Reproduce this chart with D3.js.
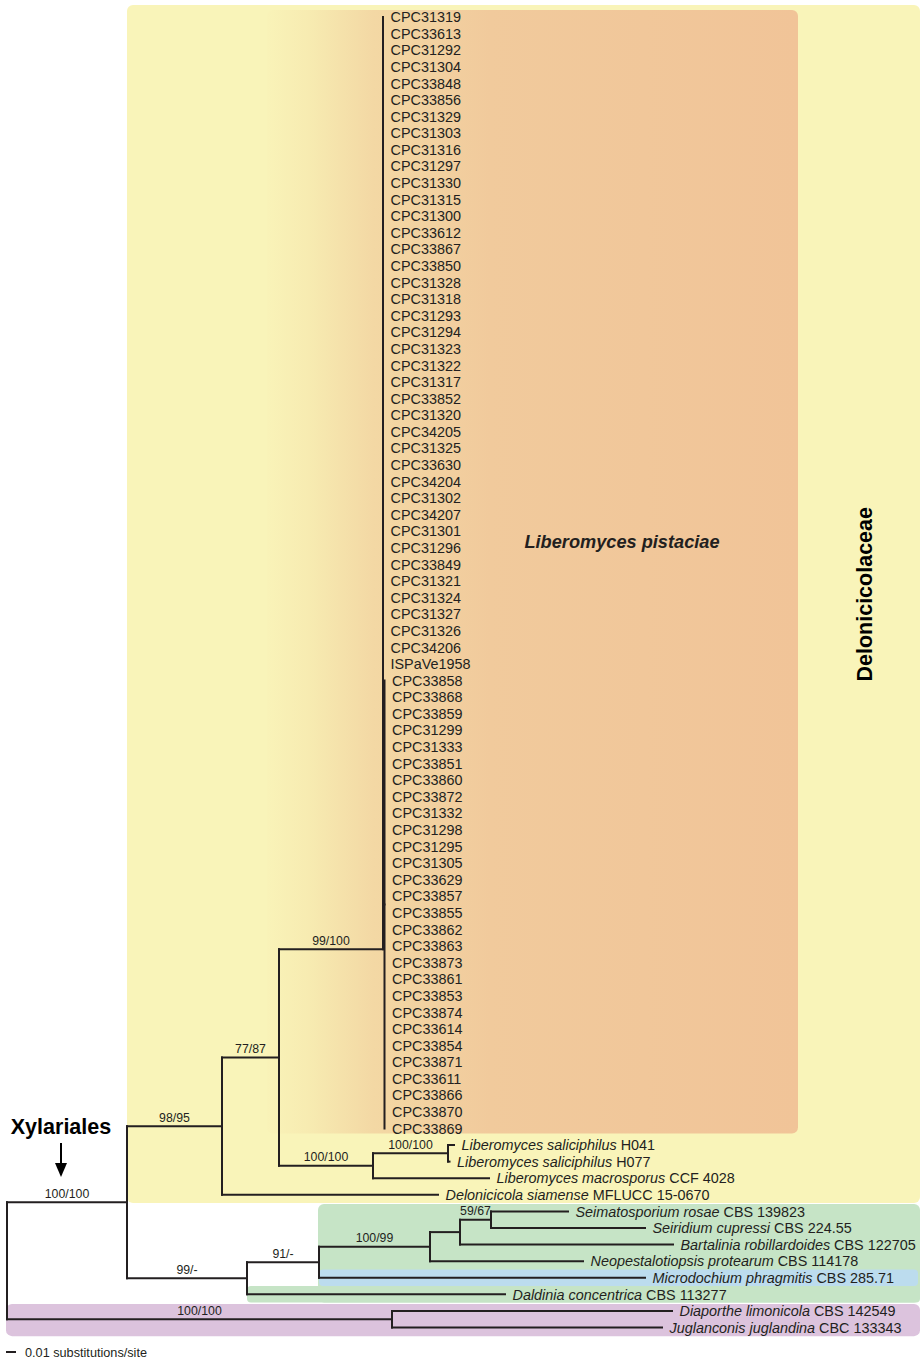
<!DOCTYPE html>
<html><head><meta charset="utf-8">
<script src="https://cdn.jsdelivr.net/npm/d3@7"></script>
<style>body{margin:0;background:#fff}svg{display:block}</style>
</head><body><svg id="chart" width="921" height="1359"></svg>
<script>
// ---------- data ----------
const pistaciaeA = ["CPC31319","CPC33613","CPC31292","CPC31304","CPC33848","CPC33856","CPC31329","CPC31303","CPC31316","CPC31297",
  "CPC31330","CPC31315","CPC31300","CPC33612","CPC33867","CPC33850","CPC31328","CPC31318","CPC31293","CPC31294",
  "CPC31323","CPC31322","CPC31317","CPC33852","CPC31320","CPC34205","CPC31325","CPC33630","CPC34204","CPC31302",
  "CPC34207","CPC31301","CPC31296","CPC33849","CPC31321","CPC31324","CPC31327","CPC31326","CPC34206","ISPaVe1958"];
const pistaciaeB = ["CPC33858","CPC33868","CPC33859","CPC31299","CPC31333","CPC33851","CPC33860","CPC33872","CPC31332","CPC31298",
  "CPC31295","CPC31305","CPC33629","CPC33857","CPC33855","CPC33862","CPC33863","CPC33873","CPC33861","CPC33853",
  "CPC33874","CPC33614","CPC33854","CPC33871","CPC33611","CPC33866","CPC33870","CPC33869"];
// row (in leaf units) where the L. pistaciae stem joins, as drawn in the reference
const pistaciaeJoinRow = 56.2;
// [id, parent, branch length (substitutions/site), support]
const backbone = [
  ["root", "", 0, ""],
  ["Xylariales", "root", 0.120, "100/100"],
  ["Delonicicolaceae", "Xylariales", 0.095, "98/95"],
  ["Liberomyces", "Delonicicolaceae", 0.057, "77/87"],
  ["pistaciae", "Liberomyces", 0.104, "99/100"]
];
const pistaciaeTips = [
  ...pistaciaeA.map(n => [n, "pistaciae", 0, ""]),
  ["pistaciaeB", "pistaciae", 0.0015, ""],
  ...pistaciaeB.map(n => [n, "pistaciaeB", 0, ""])
];
const otherNodes = [
  ["salMac", "Liberomyces", 0.094, "100/100"],
  ["saliciphilus", "salMac", 0.075, "100/100"],
  ["Liberomyces saliciphilus|H041", "saliciphilus", 0.006, ""],
  ["Liberomyces saliciphilus|H077", "saliciphilus", 0.0015, ""],
  ["Liberomyces macrosporus|CCF 4028", "salMac", 0.116, ""],
  ["Delonicicola siamense|MFLUCC 15-0670", "Delonicicolaceae", 0.216, ""],
  ["n1", "Xylariales", 0.120, "99/-"],
  ["n2", "n1", 0.072, "91/-"],
  ["n3", "n2", 0.111, "100/99"],
  ["n4", "n3", 0.030, ""],
  ["n5", "n4", 0.031, "59/67"],
  ["Seimatosporium rosae|CBS 139823", "n5", 0.077, ""],
  ["Seiridium cupressi|CBS 224.55", "n5", 0.154, ""],
  ["Bartalinia robillardoides|CBS 122705", "n4", 0.213, ""],
  ["Neopestalotiopsis protearum|CBS 114178", "n3", 0.153, ""],
  ["Microdochium phragmitis|CBS 285.71", "n2", 0.326, ""],
  ["Daldinia concentrica|CBS 113277", "n1", 0.258, ""],
  ["Diaporthales", "root", 0.385, "100/100"],
  ["Diaporthe limonicola|CBS 142549", "Diaporthales", 0.280, ""],
  ["Juglanconis juglandina|CBC 133343", "Diaporthales", 0.270, ""]
];
const scaleBarValue = 0.01;
const scaleBarLabel = "0.01 substitutions/site";

// ---------- build ----------
const rows = [...backbone, ...pistaciaeTips, ...otherNodes].map(r => ({id:r[0], parent:r[1], len:r[2], support:r[3]}));
const root = d3.stratify().id(d => d.id).parentId(d => d.parent || null)(rows);
root.eachBefore(n => { n.depthLen = n.parent ? n.parent.depthLen + n.data.len : 0; });
const leaves = root.leaves();

const x = d3.scaleLinear().domain([0, 0.01]).range([7, 17]);
const y = d3.scaleLinear().domain([0, leaves.length - 1]).range([17, 1327.5]);

leaves.forEach((l, i) => { l.row = i; });
root.eachAfter(n => {
  n.px = x(n.depthLen);
  if (!n.children) n.py = y(n.row);
  else if (n.data.id === "pistaciae") n.py = y(pistaciaeJoinRow);
  else n.py = (n.children[0].py + n.children[n.children.length - 1].py) / 2;
});
const byId = id => root.find(n => n.data.id === id);

const svg = d3.select("#chart");
const ink = "#231f20";
const font = "'Liberation Sans', Arial, Helvetica, sans-serif";

// ---------- background boxes ----------
const nX = byId("Xylariales"), nLib = byId("Liberomyces"), n1 = byId("n1"), n2 = byId("n2");
const bg = svg.append("g");
const defs = svg.append("defs");
const grad = defs.append("linearGradient").attr("id","og").attr("x1","0").attr("x2","1").attr("y1","0").attr("y2","0");
[[0,"#f9f3b8"],[0.08,"#f7ebb1"],[0.2,"#f3d8a4"],[0.42,"#f1ca9c"],[1,"#f1c498"]].forEach(s =>
  grad.append("stop").attr("offset", s[0]).attr("stop-color", s[1]));

bg.append("rect").attr("x", nX.px).attr("y", y(-0.72)).attr("width", 920 - nX.px)
  .attr("height", y(71.5) - y(-0.72)).attr("rx", 6).attr("fill", "#f9f4b9");
bg.append("rect").attr("x", nLib.px - 12).attr("y", y(-0.42)).attr("width", 798 - (nLib.px - 12))
  .attr("height", y(67.3) - y(-0.42)).attr("rx", 6).attr("fill", "url(#og)");
bg.append("rect").attr("x", n2.px - 1).attr("y", y(71.55)).attr("width", 920 - n2.px + 1)
  .attr("height", y(77.5) - y(71.55)).attr("rx", 6).attr("fill", "#c6e4c6");
bg.append("rect").attr("x", n2.px).attr("y", y(75.5)).attr("width", 918 - n2.px)
  .attr("height", y(76.5) - y(75.5)).attr("rx", 4).attr("fill", "#bcdcee");
bg.append("rect").attr("x", n1.px).attr("y", y(76.5)).attr("width", 920 - n1.px)
  .attr("height", y(77.5) - y(76.5)).attr("rx", 4).attr("fill", "#c6e4c6");
bg.append("rect").attr("x", 6).attr("y", y(77.58)).attr("width", 914)
  .attr("height", y(79.52) - y(77.58)).attr("rx", 6).attr("fill", "#dcc3dd");

// ---------- branches ----------
const g = svg.append("g").attr("stroke", ink).attr("stroke-width", 2).attr("fill", "none").attr("stroke-linecap", "square");
root.descendants().forEach(n => {
  if (n.parent && n.px - n.parent.px > 0.3)
    g.append("line").attr("x1", n.parent.px).attr("x2", n.px).attr("y1", n.py).attr("y2", n.py);
  if (n.children) {
    const ys = n.children.map(c => c.py).concat([n.py]);
    g.append("line").attr("x1", n.px).attr("x2", n.px).attr("y1", d3.min(ys)).attr("y2", d3.max(ys));
  }
});

// ---------- support values ----------
svg.append("g").selectAll("text")
  .data(root.descendants().filter(n => n.data.support))
  .join("text")
  .attr("x", n => (n.parent.px + n.px) / 2).attr("y", n => n.py - 4.5)
  .attr("text-anchor", "middle").attr("font-family", font).attr("font-size", 12.3).attr("fill", ink)
  .text(n => n.data.support);

// ---------- tip labels ----------
const tl = svg.append("g").attr("font-family", font).attr("font-size", 14.4).attr("fill", ink);
leaves.forEach(l => {
  const t = tl.append("text").attr("x", l.px + 7.5).attr("y", l.py).attr("dy", "0.36em");
  const parts = l.data.id.split("|");
  if (parts.length === 2) {
    t.append("tspan").attr("font-style", "italic").text(parts[0]);
    t.append("tspan").text(" " + parts[1]);
  } else t.text(parts[0]);
});

// ---------- clade labels ----------
svg.append("text").attr("x", 622).attr("y", y(31.6)).attr("dy", "0.36em").attr("text-anchor", "middle")
  .attr("font-family", font).attr("font-size", 18.2).attr("font-weight", "bold").attr("font-style", "italic")
  .attr("fill", ink).text("Liberomyces pistaciae");
svg.append("text").attr("transform", `translate(864,${y(34.8)}) rotate(-90)`).attr("dy", "0.36em")
  .attr("text-anchor", "middle").attr("font-family", font).attr("font-size", 21.5).attr("font-weight", "bold")
  .attr("fill", "#000").text("Delonicicolaceae");
svg.append("text").attr("x", 61).attr("y", 1134).attr("text-anchor", "middle")
  .attr("font-family", font).attr("font-size", 21.5).attr("font-weight", "bold").attr("fill", "#000").text("Xylariales");
svg.append("line").attr("x1", 61).attr("x2", 61).attr("y1", 1143).attr("y2", 1166).attr("stroke", "#000").attr("stroke-width", 2);
svg.append("path").attr("d", "M55,1163 L67,1163 L61,1177 Z").attr("fill", "#000");

// ---------- scale bar ----------
svg.append("line").attr("x1", x(0) - 1).attr("x2", x(scaleBarValue) - 1).attr("y1", 1352).attr("y2", 1352)
  .attr("stroke", ink).attr("stroke-width", 2);
svg.append("text").attr("x", 25).attr("y", 1352).attr("dy", "0.36em").attr("font-family", font)
  .attr("font-size", 12.7).attr("fill", ink).text(scaleBarLabel);
</script></body></html>
